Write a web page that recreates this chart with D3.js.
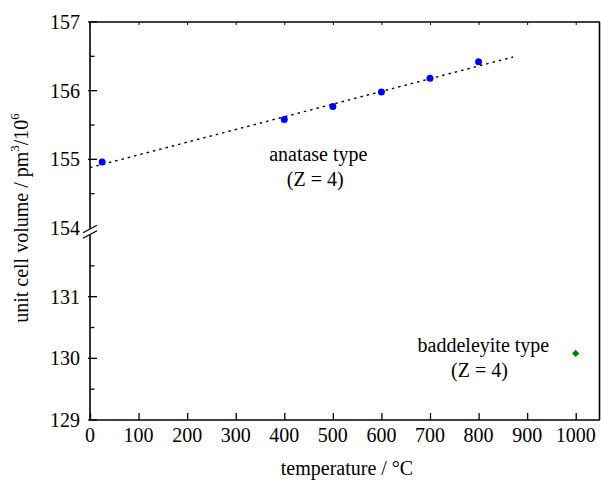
<!DOCTYPE html>
<html><head><meta charset="utf-8">
<script src="https://cdn.jsdelivr.net/npm/d3@7"></script>
</head>
<body style="margin:0;background:#fff">
<svg id="chart" width="601" height="482" font-family="Times New Roman"></svg>
<script>
// ---- data ----
const anataseTemp = [25, 400, 500, 600, 700, 800];
const anataseVol  = [154.96, 155.58, 155.77, 155.98, 156.18, 156.42];
const baddTemp = [1000];
const baddVol  = [130.08];
const fitTemp = [0, 871];
const fitVol  = [154.88, 156.49];
const xTicks = [0, 100, 200, 300, 400, 500, 600, 700, 800, 900, 1000];
const yTicksTop = [154, 155, 156, 157];
const yMinorTop = [154.5, 155.5, 156.5];
const yTicksBottom = [129, 130, 131];
const yMinorBottom = [129.5, 130.5, 131.5];
const labels = [
  {t: 470, v: 154.975, lines: ["anatase type", "(Z = 4)"], seg: "top", off: [0, -3]},
  {t: 810, v: 130.11, lines: ["baddeleyite type", "(Z = 4)"], seg: "bottom", off: [0, -4]}
];

const svg = d3.select("#chart");
const x = d3.scaleLinear().domain([0, 1050]).range([90, 600]);
const yTop = d3.scaleLinear().domain([154, 157]).range([228, 22]);
const yBot = d3.scaleLinear().domain([129, 132]).range([420, 235]);
const fs = 20;
const addText = (parent) => parent.append("text").style("font-family", "'Times New Roman'").attr("fill", "#000");

// bottom x axis
const xAxis = d3.axisBottom(x).tickValues(xTicks).tickSizeInner(-7).tickSizeOuter(0).tickFormat("");
const gx = svg.append("g").attr("transform", `translate(0,${yBot.range()[0]})`).call(xAxis);
gx.select(".domain").remove();
gx.selectAll("line").attr("stroke", "#000").attr("stroke-width", 1.3);
xTicks.forEach(v => {
  addText(svg).attr("x", x(v)).attr("y", 441.5).attr("text-anchor", "middle").attr("font-size", fs).text(v);
});

// top ticks
const topAxis = d3.axisTop(x).tickValues(xTicks).tickSizeInner(-3).tickSizeOuter(0).tickFormat("");
const gt = svg.append("g").attr("transform", `translate(0,${yTop.range()[1]})`).call(topAxis);
gt.select(".domain").remove();
gt.selectAll("line").attr("stroke", "#000").attr("stroke-width", 1);

// frame lines
const X0 = x(0), X1 = x(1050);
const line = (x1, y1, x2, y2, w) => svg.append("line").attr("x1", x1).attr("y1", y1).attr("x2", x2).attr("y2", y2).attr("stroke", "#000").attr("stroke-width", w);
line(X0 - 0.5, yBot(129), X1, yBot(129), 1.6);
line(X0 - 0.5, yTop(157), X1, yTop(157), 1.6);
line(X1 - 0.5, yTop(157), X1 - 0.5, yBot(129), 1.6);
// left axis with break
line(X0, yTop(157), X0, yTop(154) + 1, 1.6);
line(X0, yBot(132) - 0.5, X0, yBot(129), 1.6);
// break marks
const bm = svg.append("g").attr("stroke", "#000").attr("stroke-width", 1.3);
[yTop(154) + 1, yBot(132) - 0.5].forEach(yy => {
  bm.append("line").attr("x1", X0 - 7).attr("y1", yy + 3.8).attr("x2", X0 + 7).attr("y2", yy - 3.8);
});

// y ticks
function yTicks(scale, majors, minors) {
  const g = svg.append("g");
  majors.forEach(v => {
    if (v !== 154) {
      g.append("line").attr("x1", X0 - 2).attr("x2", X0 + 7).attr("y1", scale(v)).attr("y2", scale(v)).attr("stroke", "#000").attr("stroke-width", 1.3);
    }
    addText(g).attr("x", X0 - 10).attr("y", scale(v) + 7).attr("text-anchor", "end").attr("font-size", fs).text(v);
  });
  minors.forEach(v => {
    g.append("line").attr("x1", X0).attr("x2", X0 + 4.5).attr("y1", scale(v)).attr("y2", scale(v)).attr("stroke", "#000").attr("stroke-width", 1.3);
  });
}
yTicks(yTop, yTicksTop, yMinorTop);
yTicks(yBot, yTicksBottom, yMinorBottom);

// fit line
const fitData = fitTemp.map((t, i) => [t, fitVol[i]]);
svg.append("path").datum(fitData)
  .attr("d", d3.line().x(d => x(d[0])).y(d => yTop(d[1])))
  .attr("fill", "none").attr("stroke", "#000").attr("stroke-width", 1.4).attr("stroke-dasharray", "2.5,4");

// anatase points
svg.append("g").selectAll("circle").data(anataseTemp.map((t, i) => [t, anataseVol[i]]))
  .join("circle").attr("cx", d => x(d[0])).attr("cy", d => yTop(d[1])).attr("r", 3.5).attr("fill", "#0000ff");

// baddeleyite point
svg.append("g").selectAll("path").data(baddTemp.map((t, i) => [t, baddVol[i]]))
  .join("path").attr("d", d3.symbol().type(d3.symbolDiamond2).size(34))
  .attr("transform", d => `translate(${x(d[0])},${yBot(d[1])})`)
  .attr("fill", "#008000");

// annotations
labels.forEach(l => {
  const sc = l.seg === "top" ? yTop : yBot;
  l.lines.forEach((s, i) => {
    addText(svg).attr("text-anchor", "middle").attr("font-size", 20)
      .attr("x", x(l.t) + l.off[i]).attr("y", sc(l.v) + i * 25).text(s);
  });
});

// axis titles
addText(svg).attr("x", 347).attr("y", 475).attr("text-anchor", "middle").attr("font-size", 20).text("temperature / °C");
const yl = addText(svg).attr("transform", "translate(28,218) rotate(-90)").attr("text-anchor", "middle").attr("font-size", 20);
yl.append("tspan").text("unit cell volume / pm");
yl.append("tspan").attr("font-size", 13).attr("dy", -9).text("3");
yl.append("tspan").attr("dy", 9).text("/10");
yl.append("tspan").attr("font-size", 13).attr("dy", -9).text("6");
</script>
</body></html>
